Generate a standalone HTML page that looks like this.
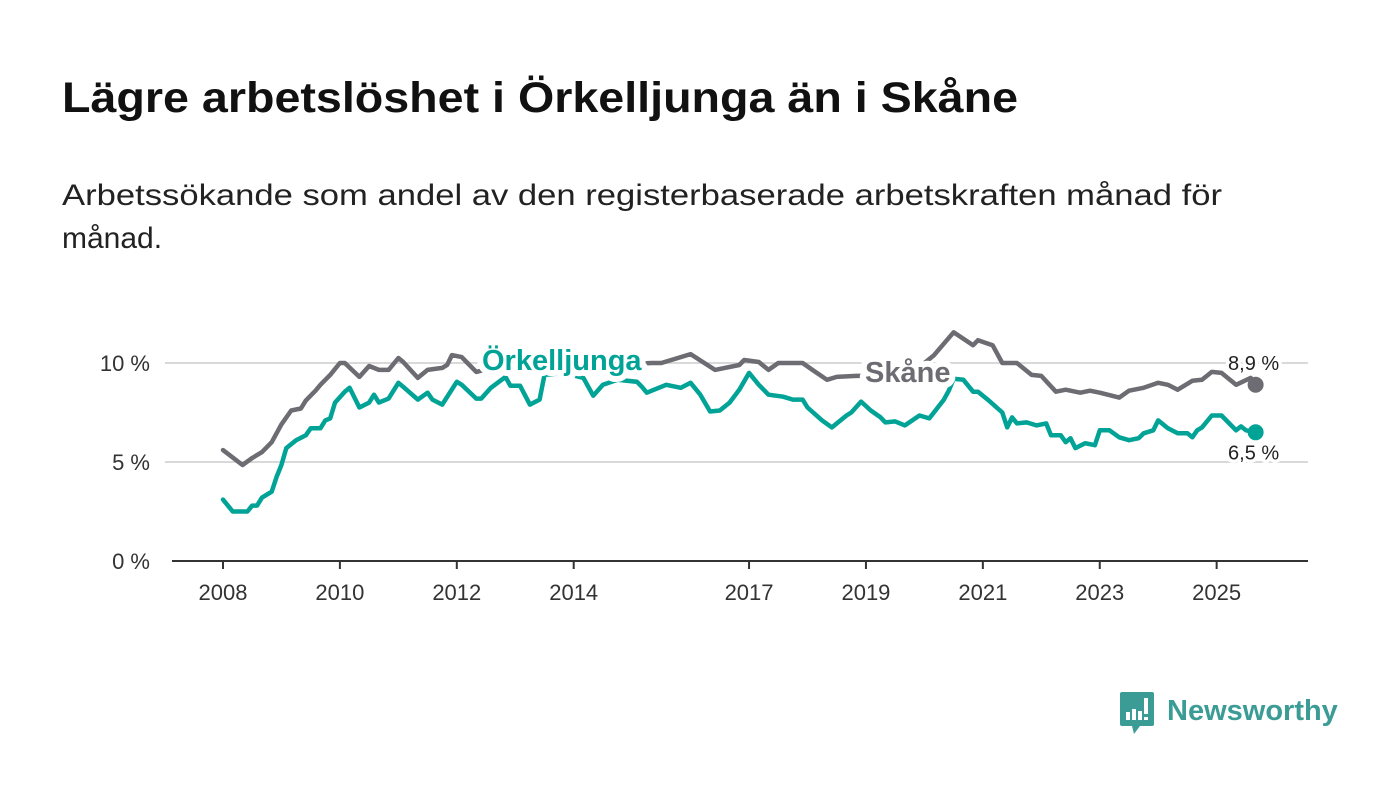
<!DOCTYPE html>
<html><head><meta charset="utf-8">
<style>
html,body{margin:0;padding:0;background:#fff;width:1400px;height:794px;overflow:hidden;font-family:"Liberation Sans",sans-serif;}
</style></head>
<body>
<svg id="chart" width="1400" height="794" viewBox="0 0 1400 794" xmlns="http://www.w3.org/2000/svg">
<text x="62" y="112" font-size="43" font-weight="bold" fill="#111" textLength="956" lengthAdjust="spacingAndGlyphs">Lägre arbetslöshet i Örkelljunga än i Skåne</text>
<text font-size="30" fill="#222"><tspan x="62" y="205" textLength="1160" lengthAdjust="spacingAndGlyphs">Arbetssökande som andel av den registerbaserade arbetskraften månad för</tspan><tspan x="62" y="248">månad.</tspan></text>
<g id="grid"></g>
<g id="axes"></g>
<g id="series"></g>
<g id="labels"></g>
<g>
<path d="M1122 692 h30 a2 2 0 0 1 2 2 v30 a2 2 0 0 1 -2 2 h-12 l-6 8 l-2 -8 h-10 a2 2 0 0 1 -2 -2 v-30 a2 2 0 0 1 2 -2z" fill="#3b9c95"/>
<rect x="1126" y="712" width="4" height="8" fill="#fff"/><rect x="1132" y="709" width="4" height="11" fill="#fff"/><rect x="1138" y="711" width="4" height="9" fill="#fff"/><rect x="1144" y="698" width="4" height="16" fill="#fff"/><rect x="1144" y="717" width="4" height="3" fill="#fff"/>
<text x="1167" y="720" font-size="29" font-weight="bold" fill="#3b9c95">Newsworthy</text>
</g>
</svg>
<script>
// months since Jan 2008
const skaneMonths = [0,4,6,8,10,12,14,16,17,19,20,22,24,25,28,30,32,34,36,37,40,42,45,46,47,49,50,52,56,62,70,80,88,90,96,101,106,107,110,112,114,119,121,124,126,130,131,137,143,146,150,154,155,158,160,163,166,168,171,173,176,178,180,184,186,189,192,194,196,199,201,203,205,208,211,212];
const skaneValues = [5.6,4.85,5.2,5.5,6.0,6.9,7.6,7.7,8.1,8.6,8.9,9.4,10.0,10.0,9.3,9.85,9.65,9.65,10.25,10.05,9.25,9.65,9.75,9.9,10.4,10.3,10.05,9.55,9.8,10.0,10.0,9.9,10.0,10.0,10.45,9.65,9.9,10.15,10.05,9.65,10.0,10.0,9.65,9.15,9.3,9.35,9.35,9.5,9.8,10.4,11.55,10.9,11.15,10.9,10.0,10.0,9.4,9.35,8.55,8.65,8.5,8.6,8.5,8.25,8.6,8.75,9.0,8.9,8.65,9.1,9.15,9.55,9.5,8.9,9.25,8.9];
const orkMonths = [0,2,5,6,7,8,10,11,12,13,15,17,18,20,21,22,23,25,26,28,30,31,32,34,36,37,40,42,43,45,48,49,52,53,55,58,59,61,63,65,66,70,74,76,78,81,85,86,87,91,94,96,98,100,102,104,106,108,110,112,115,117,119,120,123,125,128,129,131,133,135,136,138,140,143,145,148,149,150,152,154,155,157,160,161,162,163,165,167,169,170,172,173,174,175,177,179,180,182,184,186,188,189,191,192,194,196,197,198,199,200,201,203,205,208,209,210,212];
const orkValues = [3.1,2.5,2.5,2.8,2.8,3.2,3.5,4.25,4.85,5.7,6.1,6.35,6.7,6.7,7.1,7.2,8.0,8.55,8.75,7.75,8.0,8.4,8.0,8.2,9.0,8.8,8.15,8.5,8.15,7.9,9.05,8.9,8.2,8.2,8.75,9.3,8.85,8.85,7.9,8.15,9.4,9.5,9.25,8.35,8.9,9.15,9.05,8.8,8.5,8.9,8.75,9.0,8.4,7.55,7.6,8.0,8.65,9.5,8.9,8.4,8.3,8.15,8.15,7.75,7.1,6.75,7.35,7.5,8.05,7.6,7.25,7.0,7.05,6.85,7.35,7.2,8.15,8.6,9.2,9.15,8.55,8.55,8.15,7.5,6.75,7.25,6.95,7.0,6.85,6.95,6.35,6.35,6.0,6.2,5.7,5.95,5.85,6.6,6.6,6.25,6.1,6.2,6.45,6.6,7.1,6.7,6.45,6.45,6.45,6.25,6.6,6.75,7.35,7.35,6.6,6.8,6.6,6.5];
const yTicks = [0,5,10];
const yTickLabels = ["0 %","5 %","10 %"];
const xTicks = [2008,2010,2012,2014,2017,2019,2021,2023,2025];
const skaneLast = "8,9 %";
const orkLast = "6,5 %";

const NS="http://www.w3.org/2000/svg";
const xYear = y => 223 + (y-2008)*58.45;
const xMonth = m => xYear(2008 + m/12);
const yV = v => 561 - v*19.8;
function mk(tag, attrs, parent){const e=document.createElementNS(NS,tag);for(const k in attrs)e.setAttribute(k,attrs[k]);parent.appendChild(e);return e;}
const grid=document.getElementById('grid'),axes=document.getElementById('axes'),series=document.getElementById('series'),labels=document.getElementById('labels');
yTicks.forEach((t,i)=>{
  if(t>0){const l=mk('line',{x1:165,x2:1308,y1:yV(t),y2:yV(t),stroke:'#d9d9d9','stroke-width':2},grid);
  
  }
  const tx=mk('text',{x:150,y:yV(t)+8,'text-anchor':'end','font-size':22,fill:'#333'},axes);
  
  
  tx.textContent=yTickLabels[i];
});
const base=mk('line',{x1:172,x2:1308,y1:561,y2:561,stroke:'#333','stroke-width':2},axes);


xTicks.forEach(t=>{
  const tk=mk('line',{x1:xYear(t),x2:xYear(t),y1:561,y2:569,stroke:'#333','stroke-width':2},axes);
  
  
  const tx=mk('text',{x:xYear(t),y:600,'text-anchor':'middle','font-size':22,fill:'#333'},axes);
  
  
  tx.textContent=t;
});
function line(ms,vs,color,name){
  const d=ms.map((m,i)=>(i?'L':'M')+xMonth(m).toFixed(1)+' '+yV(vs[i]).toFixed(1)).join(' ');
  const p=mk('path',{d:d,fill:'none',stroke:color,'stroke-width':4.5,'stroke-linejoin':'round','stroke-linecap':'round'},series);
  
  
  const n=ms.length-1;
  const c=mk('circle',{cx:xMonth(ms[n]),cy:yV(vs[n]),r:8,fill:color},series);
  
  
}
line(skaneMonths,skaneValues,'#6d6c72','skane-line');
line(orkMonths,orkValues,'#00a396','orkelljunga-line');
function label(x,y,txt,color,size,bold,anchor,name,sw){
  const t=mk('text',{x:x,y:y,'font-size':size,'font-weight':bold?'bold':'normal',fill:color,stroke:'#fff','stroke-width':sw,'paint-order':'stroke','stroke-linejoin':'round','text-anchor':anchor},labels);
  
  
  t.textContent=txt;
}
label(482,370,'Örkelljunga','#00a396',29,true,'start','orkelljunga-series-label',12);
label(865,382,'Skåne','#6d6c72',29,true,'start','skane-series-label',12);
const nS=skaneMonths.length-1,nO=orkMonths.length-1;
label(xMonth(skaneMonths[nS])-2,yV(skaneValues[nS])-15,skaneLast,'#222',20,false,'middle','skane-last-value',7);
label(xMonth(orkMonths[nO])-2,yV(orkValues[nO])+27,orkLast,'#222',20,false,'middle','orkelljunga-last-value',7);
</script>
</body></html>
